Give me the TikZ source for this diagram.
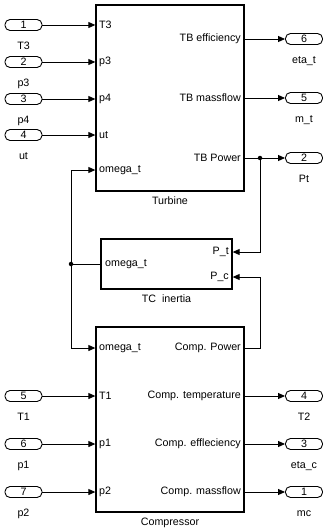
\documentclass[tikz,border=0pt]{standalone}
\usepackage{fontspec}
\setmainfont{Liberation Sans}
\usetikzlibrary{arrows.meta, positioning, calc}

\begin{document}
\begin{tikzpicture}[x=1pt, y=-1pt, font=\fontsize{10.7}{12}\selectfont,
        block/.style={draw, line width=1.3pt, inner sep=0pt},
        port/.style={draw, line width=0.9pt, rounded corners=5pt, minimum width=37pt, minimum height=11pt, inner sep=0pt},
        portlabel/.style={label distance=8pt, text height=7.5pt, text depth=2pt},
        sig/.style={line width=0.9pt, -{Triangle[length=7pt, width=6pt]}},
        wire/.style={line width=0.9pt},
        dot/.style={circle, fill, inner sep=0pt, minimum size=4.5pt}]
        \useasboundingbox (0,0) rectangle (323,532);

        % Blocks
        \node[block, minimum width=148pt, minimum height=186pt, label={[label distance=2pt]below:Turbine}] (turbine) at (170,98) {};
        \node[block, minimum width=131pt, minimum height=50pt, label={[label distance=2pt]below:TC\ \ inertia}] (inertia) at (166.5,264) {};
        \node[block, minimum width=148pt, minimum height=185pt, label={[label distance=2pt]below:Compressor}] (compressor) at (170,419.5) {};

        % Turbine signals
        \node[anchor=west, inner sep=1pt] (tT3) at (98,25) {T3};
        \node[anchor=west, inner sep=1pt] (tp3) at (98,62) {p3};
        \node[anchor=west, inner sep=1pt] (tp4) at (98,99) {p4};
        \node[anchor=west, inner sep=1pt] (tut) at (98,135) {ut};
        \node[anchor=west, inner sep=1pt] (tomega) at (98,170) {omega\_t};
        \node[anchor=east, inner sep=1pt] (teff) at (242,39) {TB efficiency};
        \node[anchor=east, inner sep=1pt] (tmass) at (242,98) {TB massflow};
        \node[anchor=east, inner sep=1pt] (tpower) at (242,158) {TB Power};

        % TC inertia signals
        \node[anchor=west, inner sep=1pt] (iomega) at (104,264) {omega\_t};
        \node[anchor=east, inner sep=1pt] (iPt) at (230,252) {P\_t};
        \node[anchor=east, inner sep=1pt] (iPc) at (230,277) {P\_c};

        % Compressor signals
        \node[anchor=west, inner sep=1pt] (comega) at (98,348) {omega\_t};
        \node[anchor=west, inner sep=1pt] (cT1) at (98,396) {T1};
        \node[anchor=west, inner sep=1pt] (cp1) at (98,444) {p1};
        \node[anchor=west, inner sep=1pt] (cp2) at (98,492) {p2};
        \node[anchor=east, inner sep=1pt] (cpower) at (242,348) {Comp. Power};
        \node[anchor=east, inner sep=1pt] (ctemp) at (242,396) {Comp. temperature};
        \node[anchor=east, inner sep=1pt] (ceff) at (242,444) {Comp. effleciency};
        \node[anchor=east, inner sep=1pt] (cmass) at (242,492) {Comp. massflow};

        % Inports
        \node[port, label={[portlabel]below:T3}] (inT3) at (23.5,25) {1};
        \node[port, label={[portlabel]below:p3}] (inp3) at (23.5,62) {2};
        \node[port, label={[portlabel]below:p4}] (inp4) at (23.5,99) {3};
        \node[port, label={[portlabel]below:ut}] (inut) at (23.5,135) {4};
        \node[port, label={[portlabel]below:T1}] (inT1) at (23.5,396) {5};
        \node[port, label={[portlabel]below:p1}] (inp1) at (23.5,444) {6};
        \node[port, label={[portlabel]below:p2}] (inp2) at (23.5,492) {7};

        % Outports
        \node[port, label={[portlabel]below:eta\_t}] (outeta) at (304,39) {6};
        \node[port, label={[portlabel]below:m\_t}] (outmt) at (304,98) {5};
        \node[port, label={[portlabel]below:Pt}] (outPt) at (304,158) {2};
        \node[port, label={[portlabel]below:T2}] (outT2) at (304,396) {4};
        \node[port, label={[portlabel]below:eta\_c}] (outetac) at (304,444) {3};
        \node[port, label={[portlabel]below:mc}] (outmc) at (304,492) {1};

        % Branch points
        \coordinate (jwest) at (71,264);
        \coordinate (jeast) at (260,158);
        \node[dot] (dwest) at (jwest) {};
        \node[dot] (deast) at (jeast) {};

        % Inputs
        \draw[sig] (inT3) -- (inT3 -| turbine.west);
        \draw[sig] (inp3) -- (inp3 -| turbine.west);
        \draw[sig] (inp4) -- (inp4 -| turbine.west);
        \draw[sig] (inut) -- (inut -| turbine.west);
        \draw[sig] (inT1) -- (inT1 -| compressor.west);
        \draw[sig] (inp1) -- (inp1 -| compressor.west);
        \draw[sig] (inp2) -- (inp2 -| compressor.west);

        % Outputs
        \draw[sig] (teff -| turbine.east) -- (outeta);
        \draw[sig] (tmass -| turbine.east) -- (outmt);
        \draw[sig] (tpower -| turbine.east) -- (outPt);
        \draw[sig] (ctemp -| compressor.east) -- (outT2);
        \draw[sig] (ceff -| compressor.east) -- (outetac);
        \draw[sig] (cmass -| compressor.east) -- (outmc);

        % Speed feedback
        \draw[wire] (inertia.west) -- (jwest);
        \draw[sig] (jwest) |- (tomega -| turbine.west);
        \draw[sig] (jwest) |- (comega -| compressor.west);

        % Power to inertia
        \draw[sig] (jeast) |- (iPt -| inertia.east);
        \draw[sig] (cpower -| compressor.east) -| (jeast |- iPc) -- (iPc -| inertia.east);
    \end{tikzpicture}
\end{document}
